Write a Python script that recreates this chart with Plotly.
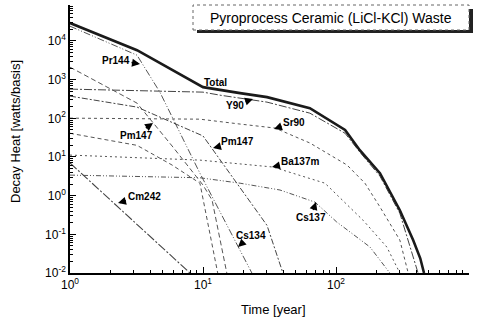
import plotly.graph_objects as go

# ---------------- data ----------------
total_t = [1, 3.19, 10.0, 13.4, 19.0, 30.3, 63.6, 117, 151, 214, 302, 380, 430, 459]
total_y = [29000, 5780, 640, 536, 448, 353, 183, 50, 15, 3.8, 0.42, 0.071, 0.024, 0.01]

pr144_t = [1, 3.19, 4.74, 9.48, 23.3]
pr144_y = [24100, 4290, 475, 3.8, 0.01]

y90_t = [1, 4.0, 10.0, 13.4, 30.3, 63.6, 117, 151, 214, 302, 414]
y90_y = [569, 505, 475, 397, 262, 136, 41, 13.4, 3.2, 0.35, 0.01]

sr90_t = [1, 9.48, 19.0, 34.8, 63.6, 121, 165, 214, 302, 349]
sr90_y = [101, 95, 71, 56, 23, 6.2, 2.1, 0.51, 0.071, 0.01]

pm147a_t = [1, 3.19, 5.95, 10.0, 11.7, 15.1]
pm147a_y = [2100, 247, 18, 1.88, 0.77, 0.01]

pm147b_t = [1, 3.19, 10.0, 30.3, 39.9]
pm147b_y = [375, 195, 35, 0.17, 0.01]

cs134_t = [1, 3.19, 5.85, 9.48, 12.9]
cs134_y = [41, 20, 6.2, 2.1, 0.01]

ba137m_t = [1, 9.48, 33.5, 82.6, 160, 241, 302]
ba137m_y = [11.2, 8.3, 5.5, 2.1, 0.23, 0.047, 0.01]

cs137_t = [1, 9.48, 19.0, 37.9, 69.5, 101, 180, 254]
cs137_y = [3.4, 2.9, 2.1, 1.40, 0.68, 0.21, 0.047, 0.01]

cm242_t = [1, 2.83, 7.98]
cm242_y = [7.0, 0.26, 0.01]

y_tick_vals = [0.01, 0.1, 1, 10, 100, 1000, 10000]
y_tick_text = ["10<sup>-2</sup>", "10<sup>-1</sup>", "10<sup>0</sup>", "10<sup>1</sup>",
               "10<sup>2</sup>", "10<sup>3</sup>", "10<sup>4</sup>"]
x_tick_vals = [1, 10, 100, 1000]
x_tick_text = ["10<sup>0</sup>", "10<sup>1</sup>", "10<sup>2</sup>", "10<sup>3</sup>"]

# ---------------- figure ----------------
W, H = 477, 323
ML, MR, MT, MB = 70, 8, 5, 50
PW, PH = W - ML - MR, H - MT - MB


def px(x):
    return (x - ML) / PW


def py(y):
    return (H - MB - y) / PH


FONT = "Liberation Sans, Arial, sans-serif"
fig = go.Figure()

series = [
    (pr144_t, pr144_y, "#555555", 1.0, "7px,2px,1px,2px,1px,2px"),
    (y90_t, y90_y, "#444444", 1.0, "8px,2px,2px,2px"),
    (sr90_t, sr90_y, "#555555", 1.0, "3px,3px"),
    (pm147a_t, pm147a_y, "#555555", 1.0, "5px,3px"),
    (pm147b_t, pm147b_y, "#444444", 1.0, "6px,2px,2px,2px"),
    (cs134_t, cs134_y, "#555555", 1.0, "4px,3px"),
    (ba137m_t, ba137m_y, "#555555", 1.0, "2px,3px"),
    (cs137_t, cs137_y, "#555555", 1.0, "5px,2px,1px,2px,1px,2px"),
    (cm242_t, cm242_y, "#444444", 1.1, "9px,2px,2px,2px"),
    (total_t, total_y, "#1a1a1a", 2.6, "solid"),
]
for t, y, c, w, d in series:
    fig.add_trace(go.Scatter(x=t, y=y, mode="lines",
                             line=dict(color=c, width=w, dash=d),
                             showlegend=False, hoverinfo="skip"))

minor_y = [m * 10 ** k for k in range(-2, 5) for m in range(2, 10)]
minor_x = [m * 10 ** k for k in range(0, 3) for m in range(2, 10)]

fig.update_layout(
    width=W, height=H,
    margin=dict(l=ML, r=MR, t=MT, b=MB),
    paper_bgcolor="white", plot_bgcolor="white",
    font=dict(family=FONT, color="black", size=12),
    xaxis=dict(type="log", range=[0, 3], showgrid=False, zeroline=False,
               showline=True, linecolor="black", linewidth=1.5, mirror=False,
               ticks="inside", ticklen=6, tickwidth=1.2, tickcolor="black",
               tickvals=x_tick_vals, ticktext=x_tick_text,
               tickfont=dict(size=12, family=FONT),
               minor=dict(tickvals=minor_x, ticks="inside", ticklen=3,
                          tickcolor="black", tickwidth=1, showgrid=False)),
    yaxis=dict(type="log", range=[-2, 4.93], showgrid=False, zeroline=False,
               showline=True, linecolor="black", linewidth=1.5, mirror=False,
               ticks="inside", ticklen=6, tickwidth=1.2, tickcolor="black",
               tickvals=y_tick_vals, ticktext=y_tick_text,
               tickfont=dict(size=12, family=FONT),
               minor=dict(tickvals=minor_y, ticks="inside", ticklen=3,
                          tickcolor="black", tickwidth=1, showgrid=False)),
)

# title box with shadow
fig.add_shape(type="rect", xref="paper", yref="paper", layer="above",
              x0=px(197), x1=px(473), y0=py(33), y1=py(9),
              fillcolor="#222222", line=dict(width=0))
fig.add_shape(type="rect", xref="paper", yref="paper", layer="above",
              x0=px(193), x1=px(469), y0=py(30), y1=py(5),
              fillcolor="white", line=dict(color="#666666", width=1, dash="dot"))
fig.add_annotation(xref="paper", yref="paper", x=px(331), y=py(18),
                   text="Pyroprocess Ceramic (LiCl-KCl) Waste", showarrow=False,
                   font=dict(size=14, family=FONT, color="black"),
                   xanchor="center", yanchor="middle")

# axis titles
fig.add_annotation(xref="paper", yref="paper", x=px(15), y=py(132),
                   text="Decay Heat [watts/basis]", textangle=-90, showarrow=False,
                   font=dict(size=13, family=FONT), xanchor="center", yanchor="middle")
fig.add_annotation(xref="paper", yref="paper", x=px(273), y=py(309),
                   text="Time [year]", showarrow=False,
                   font=dict(size=13, family=FONT), xanchor="center", yanchor="middle")

# curve labels: (text, tip_x, tip_y, text_center_x, text_center_y, arrow)
labels = [
    ("Pr144", 140, 64, 116, 60, True),
    ("Total", 0, 0, 202, 75, False),
    ("Y90", 253, 99, 235, 105, True),
    ("Sr90", 274, 129, 294, 122, True),
    ("Pm147", 153, 123, 136, 135, True),
    ("Pm147", 213, 148, 237, 142, True),
    ("Ba137m", 272, 167, 300, 161, True),
    ("Cs137", 316, 202, 311, 217, True),
    ("Cm242", 118, 203, 144, 196, True),
    ("Cs134", 238, 247, 251, 235, True),
]
lab_font = dict(size=10, family="Liberation Sans, Arial, sans-serif", color="black")
for txt, tx, ty, cx, cy, arr in labels:
    if arr:
        fig.add_annotation(xref="paper", yref="paper", x=px(tx), y=py(ty),
                           ax=cx - tx, ay=cy - ty, text="<b>%s</b>" % txt,
                           showarrow=True, arrowhead=2, arrowsize=1, arrowwidth=1.6,
                           arrowcolor="black", standoff=0, font=lab_font)
    else:
        fig.add_annotation(xref="paper", yref="paper", x=px(cx), y=py(cy),
                           text="<b>%s</b>" % txt, showarrow=False, font=lab_font)

fig.write_html("out.html", config={"displayModeBar": False},
               post_script="document.body.style.margin='0';document.body.style.padding='0';")
